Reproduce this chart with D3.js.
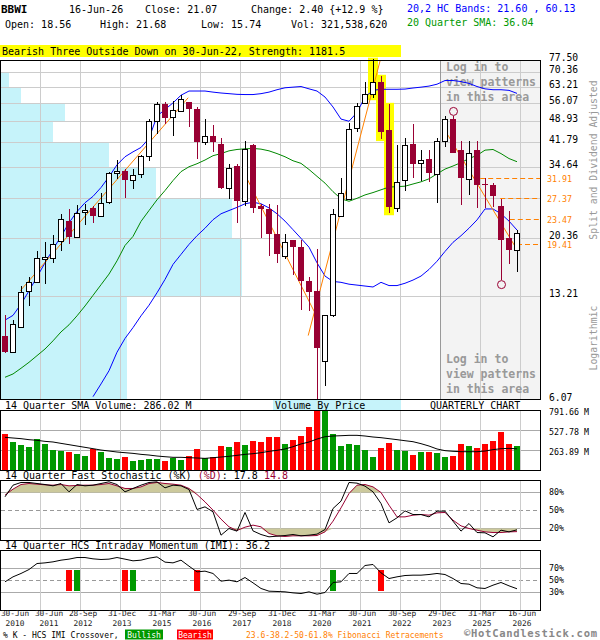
<!DOCTYPE html>
<html>
<head>
<meta charset="utf-8">
<script src="https://cdn.jsdelivr.net/npm/d3@7"></script>
<style>
  body { margin: 0; background: #fff; }
  text { font-family: "DejaVu Sans Mono", monospace; }
</style>
</head>
<body>
<svg id="chart" width="600" height="640"></svg>
<script>
// BBWI quarterly candles, 30-Jun-2010 .. 16-Jun-2026 (65 quarters)
const qOpen = [9.8,8.65,10.5,13.6,14.6,17.3,17.5,19.9,23.2,20.6,
  24.7,25.5,23.9,26.5,33.0,33.6,31.6,33.0,37.7,49.0,
  55.5,50.3,52.8,56.3,53.4,41.8,43.6,41.3,29.7,34.9,
  26.9,40.9,25.9,25.2,21.0,17.8,20.0,19.0,14.8,13.7,
  8.1,11.4,24.1,27.3,46.4,55.8,59.9,65.6,45.7,25.5,
  31.5,41.3,35.8,36.9,33.0,42.0,49.6,39.2,31.6,39.4,
  30.6,30.2,25.9,20.3,18.56];
const qHigh = [11.4,11.0,14.2,15.2,18.4,19.8,20.8,24.3,25.2,26.1,
  26.3,25.8,28.6,33.4,36.5,34.2,34.1,38.0,49.7,56.3,
  56.3,56.7,59.6,56.5,54.2,49.7,47.3,42.9,35.4,35.5,
  42.0,41.0,26.3,26.2,26.1,21.0,20.1,20.1,15.2,18.8,
  11.4,25.2,32.0,48.0,56.0,65.6,78.0,68.6,55.6,40.9,
  43.2,47.9,39.4,39.2,43.2,50.6,50.6,42.0,42.0,42.0,
  31.8,30.7,27.3,25.0,21.68];
const qLow = [8.6,8.6,10.4,12.2,14.5,14.4,16.9,18.4,19.5,20.5,
  22.4,22.7,23.8,26.3,31.6,27.5,29.4,31.8,36.3,44.3,
  47.9,43.6,52.2,46.9,36.7,40.9,38.9,29.4,27.3,22.8,
  25.9,24.5,20.4,17.8,16.9,17.4,15.4,11.9,11.8,6.1,
  6.7,11.3,24.0,27.3,45.0,55.7,58.0,42.7,24.5,24.7,
  29.0,31.8,31.3,31.0,26.5,40.1,38.5,26.1,28.0,25.4,
  25.4,25.6,14.9,16.7,15.74];
const qClose = [8.65,10.7,13.6,14.6,17.5,17.6,19.5,23.4,20.5,24.6,
  25.1,24.0,26.4,33.0,33.6,31.5,32.7,37.7,49.0,55.5,
  50.1,53.0,57.6,53.4,41.9,43.6,41.9,29.6,34.4,26.9,
  39.6,25.4,25.2,20.9,18.1,19.7,19.0,14.8,13.6,8.9,
  11.4,24.3,28.6,46.2,54.9,59.9,65.6,45.0,25.6,31.0,
  40.9,35.5,36.5,33.0,42.2,49.6,38.5,31.8,38.5,30.2,
  30.2,27.8,20.0,18.6,21.07];

// volume in millions of shares and its 14 quarter SMA
const volume = [482,376,336,310,411,350,270,257,244,218,
  191,284,244,165,152,178,125,139,152,152,
  125,165,139,191,284,165,178,323,310,376,
  336,389,376,442,442,350,402,459,578,800,
  800,482,323,350,336,270,182,301,367,270,
  261,205,244,244,231,178,191,350,323,301,
  350,389,508,350,321.5];
const volSma = [437.5,428.7,420,406.7,398,384.7,376,358,340.7,323,
  305.6,288,270,257,244,235,226,213,204,191,
  182,174,174,169,165,160,169,178,187,200,
  213,222,235,253,266,284,314,350,376,415,
  446,455,459,464,464,455,442,433,420,407,
  393,380,354,323,284,262,253,248,248,248,
  257,275,288,292,286.02];

// 20,2 HC bands and 20 quarter SMA
const bbUpper = [11.0,11.4,12.4,13.7,15.2,16.9,18.7,20.6,22.8,24.8,
  26.5,27.8,29.7,32.2,35.2,37.4,38.8,40.1,42.9,50.7,
  53.3,56.0,59.3,61.2,61.2,61.2,60.7,60.3,60.0,59.7,
  59.6,59.6,60.0,60.7,61.8,62.7,63.0,63.3,62.2,61.2,
  58.5,54.3,49.6,48.8,52.1,58.5,61.5,62.0,62.0,62.0,
  62.1,62.6,63.0,63.5,64.4,66.2,66.2,65.7,64.8,63.3,
  62.2,61.8,61.8,61.5,60.13];
const bbLower = [null,null,null,null,null,null,null,null,null,null,
  null,6.2,6.82,7.53,8.65,9.59,10.4,11.36,12.3,13.5,
  14.92,16.7,18.0,19.4,20.7,21.9,23.34,24.4,25.0,25.6,
  26.3,26.6,26.3,25.5,24.4,23.1,21.66,20.3,19.0,16.9,
  15.3,14.7,14.6,14.4,14.3,14.2,14.1,14.6,14.25,14.25,
  14.5,14.85,15.3,16.08,17.1,18.4,19.7,20.7,21.9,23.3,
  25.3,25.3,24.4,23.1,21.6];
const sma20 = [7.17,7.35,7.67,8.02,8.43,8.86,9.42,10.07,10.62,11.36,
  12.23,13.24,14.34,15.53,17.15,19.24,20.6,23.05,25.0,27.09,
  29.04,31.29,33.46,34.7,35.5,36.5,37.7,38.3,39.1,39.5,
  39.7,39.8,39.6,39.1,38.3,37.4,36.3,35.6,34.0,32.3,
  30.7,28.8,27.3,26.8,27.4,28.1,28.6,29.2,29.8,29.9,
  30.0,30.5,31.0,31.7,32.9,34.1,34.9,35.8,36.9,37.8,
  39.3,39.5,38.3,36.9,36.04];

// 14 quarter fast stochastic and HCS intraday momentum (percent)
const stochK = [72.8,92.2,96.7,96.7,95,93.3,91.1,95,81.1,93.3,
  91.1,92.2,95,97.8,93.3,81.1,86.7,92.2,96.7,97.8,
  87.8,92.2,91.1,85,51.7,56.1,47.8,8.9,20,15.6,
  46.7,16,10,6.1,7.2,8.3,10,7.8,8.9,10.6,
  18.3,53.3,65.6,96.7,95.6,90.6,81.1,61.7,29.4,37.8,
  49.4,43.3,43.3,39.4,48.9,48.9,32.2,15.6,28.3,13.3,
  12.8,6.1,17.2,14.4,17.8];
const stochD = [75.6,85.6,93.3,95,93.9,92.8,92.2,93.3,91.1,91.7,
  92.2,92.2,93.3,95,91.1,86.7,86.7,89.4,95,96.7,
  95,93.9,92.2,86.7,76.7,64.4,50.6,35.6,22.8,16.7,
  22.2,25.6,22.8,11.7,7.8,6.7,7.8,7.8,7.8,8.3,
  14.4,32.2,54.4,78.3,92.2,93.3,89.4,80,58.9,39.4,
  39.4,42.2,43.3,42.2,46.1,46.7,33.9,24.4,20,17.2,
  14.4,13.3,13.3,14.4,14.8];
const imi = [47.8,56.1,61.7,68.3,78.3,79.4,81.1,83.9,85.6,88.3,
  88.3,86.1,85,85.6,88.3,85.6,82.8,83.9,87.2,89.4,
  80.6,79.4,83.9,73.9,64.4,65.6,61.7,48.9,50.6,47.8,
  55,46.1,36.7,32.2,31.7,31.1,29.4,28.3,31.1,27.2,
  30,46.7,47.8,61.7,61.7,75,76.7,62.8,53.3,56.1,
  58.3,58.9,58.9,60,61.7,60,53.3,45,43.9,37.8,
  36.7,42.2,46.7,41.1,36.2];
const imiCrossIdx = [8, 9, 15, 16, 24, 41, 47];
const imiCrossType = ["bear", "bull", "bear", "bull", "bear", "bull", "bear"];

// volume by price, one bin between each pair of price ticks (low to high)
const priceTicks = [6.07, 13.21, 20.36, 27.50, 34.64, 41.79, 48.93, 56.07, 63.21, 70.36, 77.50];
const priceTickLabels = ["6.07", "13.21", "20.36", "", "34.64", "41.79", "48.93", "56.07", "63.21", "70.36", "77.50"];
const vbpVolume = [1260, 2410, 2310, 1550, 1080, 520, 640, 200, 80, 0];

// pattern, swing markers, trend lines (quarter index, price) and fib levels
const patternIdx = [46, 47, 48];
const swingHighIdx = [56];
const swingLowIdx = [62];
const trendFrom = [[1.9, 13.7], [30, 32.7], [37.9, 9.8], [54.8, 46.5]];
const trendTo = [[22.9, 58.2], [38.75, 11.6], [46.9, 77.0], [64, 18.66]];
const fibLevels = [31.91, 27.37, 23.47, 19.41];
const fibStartIdx = [59.4, 61.9, 63.1, 64];

// time axis
const xTickIdx = [0, 4, 9, 14, 19, 24, 29, 34, 39, 44, 49, 54, 59, 64];
const xTickTop = ["30-Jun","30-Jun","28-Sep","31-Dec","31-Mar","30-Jun","29-Sep","31-Dec","31-Mar","30-Jun","30-Sep","29-Dec","31-Mar","16-Jun"];
const xTickBottom = ["2010","2011","2012","2013","2015","2016","2017","2018","2020","2021","2022","2023","2025","2026"];

const volTicks = [263.89, 527.78, 791.66];
const stochTicks = [20, 50, 80];
const imiTicks = [30, 50, 70];

const svg = d3.select("#chart");
svg.append("rect").attr("width", 600).attr("height", 640).attr("fill", "#fff");

const n = qClose.length;
const RIGHT = 540.5;
const DARK_RED = "#990033";
const ORANGE = "#ff8000";
const GRID = "#cccccc";

const x = d3.scaleLinear().domain([0, n - 1]).range([5, 517]);
const y = d3.scaleLog().domain([6.07, 77.5]).range([399.5, 59.5]);
const yVol = d3.scaleLinear().domain([0, 791.66]).range([470.5, 410.5]);
const yStoch = d3.scaleLinear().domain([0, 100]).range([540.5, 480.5]);
const yImi = d3.scaleLinear().domain([0, 100]).range([610.5, 550.5]);
const vbpW = d3.scaleLinear().domain([0, d3.max(vbpVolume)]).range([0, 241]);
const gridX = xTickIdx.slice(1).map(i => x(i) + 3.5);

const addClip = (id, top, bottom) => {
  svg.append("clipPath").attr("id", id)
    .append("rect").attr("x", 0.5).attr("y", top).attr("width", 540).attr("height", bottom - top);
};
addClip("clipMain", 60.5, 399.5);
addClip("clipVol", 410.5, 470.5);
addClip("clipStoch", 480.5, 540.5);
addClip("clipImi", 550.5, 610.5);

const vGrid = (g, top, bottom) => {
  gridX.forEach(gx => {
    g.append("line").attr("x1", gx).attr("x2", gx).attr("y1", top).attr("y2", bottom)
      .attr("stroke", GRID).attr("shape-rendering", "crispEdges");
  });
};

// ---------- header ----------
const header = svg.append("g").attr("font-size", 10).attr("fill", "#000");
header.append("text").attr("x", 1).attr("y", 13).attr("font-size", 11).attr("font-weight", "bold").text("BBWI");
header.append("text").attr("x", 69).attr("y", 13).text("16-Jun-26");
header.append("text").attr("x", 145).attr("y", 13).text("Close: 21.07");
header.append("text").attr("x", 251).attr("y", 13).text("Change: 2.40 {+12.9 %}");
header.append("text").attr("x", 5).attr("y", 28).text("Open: 18.56");
header.append("text").attr("x", 100).attr("y", 28).text("High: 21.68");
header.append("text").attr("x", 201).attr("y", 28).text("Low: 15.74");
header.append("text").attr("x", 291).attr("y", 28).text("Vol: 321,538,620");
header.append("text").attr("x", 407).attr("y", 12).attr("fill", "#0000ff").text("20,2 HC Bands: 21.60 , 60.13");
header.append("text").attr("x", 407).attr("y", 26).attr("fill", "#009900").text("20 Quarter SMA: 36.04");

// ---------- main price panel ----------
const main = svg.append("g");
main.append("rect").attr("x", 440.5).attr("y", 60.5).attr("width", 100).attr("height", 339)
  .attr("fill", "#f3f3f3");

const vbpG = main.append("g").attr("shape-rendering", "crispEdges");
vbpVolume.forEach((v, k) => {
  if (!v) return;
  vbpG.append("rect")
    .attr("x", 0.5)
    .attr("y", y(priceTicks[k + 1]))
    .attr("width", vbpW(v))
    .attr("height", y(priceTicks[k]) - y(priceTicks[k + 1]))
    .attr("fill", "#c6f3fa");
});

const mainGrid = main.append("g");
priceTicks.forEach(p => {
  const yy = Math.round(y(p)) + 0.5;
  if (yy <= 61 || yy >= 399) return;
  mainGrid.append("line").attr("x1", 0.5).attr("x2", RIGHT).attr("y1", yy).attr("y2", yy)
    .attr("stroke", GRID).attr("shape-rendering", "crispEdges");
});
vGrid(mainGrid, 60.5, 399.5);
main.append("line").attr("x1", 440.5).attr("x2", 440.5).attr("y1", 60.5).attr("y2", 399.5)
  .attr("stroke", "#999").attr("shape-rendering", "crispEdges");

const loginText = ["Log in to", "view patterns", "in this area"];
[71, 363].forEach(base => {
  loginText.forEach((t, k) => {
    main.append("text").attr("x", 446).attr("y", base + k * 15)
      .attr("font-size", 11.5).attr("font-weight", "bold").attr("fill", "#999").text(t);
  });
});

// three outside down highlight
patternIdx.forEach(i => {
  main.append("rect")
    .attr("x", x(i) - 5).attr("width", 10)
    .attr("y", y(qHigh[i]) - 1)
    .attr("height", y(qLow[i]) - y(qHigh[i]) + 3)
    .attr("fill", "#ffff00");
});

const overlay = main.append("g").attr("clip-path", "url(#clipMain)").attr("fill", "none");
const priceLine = arr => d3.line().defined(d => d != null).x((d, i) => x(i)).y(d => y(d))(arr);
overlay.append("path").attr("d", priceLine(bbUpper)).attr("stroke", "#0000ff");
overlay.append("path").attr("d", priceLine(bbLower)).attr("stroke", "#0000ff");
overlay.append("path").attr("d", priceLine(sma20)).attr("stroke", "#008800");

trendFrom.forEach((a, k) => {
  const b = trendTo[k];
  overlay.append("line")
    .attr("x1", x(a[0])).attr("y1", y(a[1]))
    .attr("x2", x(b[0])).attr("y2", y(b[1]))
    .attr("stroke", ORANGE);
});
fibLevels.forEach((lv, k) => {
  const yy = Math.round(y(lv)) + 0.5;
  overlay.append("line")
    .attr("x1", x(fibStartIdx[k])).attr("x2", RIGHT)
    .attr("y1", yy).attr("y2", yy)
    .attr("stroke", ORANGE).attr("stroke-dasharray", "5,3");
  svg.append("text").attr("x", 547).attr("y", yy + 3)
    .attr("font-size", 8.3).attr("fill", ORANGE).text(lv.toFixed(2));
});

// candles
const candles = main.append("g").attr("shape-rendering", "crispEdges");
d3.range(n).forEach(i => {
  const up = qClose[i] >= qOpen[i];
  const col = up ? "#000" : DARK_RED;
  const cx = x(i);
  candles.append("line")
    .attr("x1", cx + 0.5).attr("x2", cx + 0.5)
    .attr("y1", y(qHigh[i])).attr("y2", y(qLow[i]))
    .attr("stroke", col);
  const top = y(Math.max(qOpen[i], qClose[i]));
  const bot = y(Math.min(qOpen[i], qClose[i]));
  if (up) {
    candles.append("rect")
      .attr("x", cx - 2.5).attr("y", Math.round(top) + 0.5)
      .attr("width", 5).attr("height", Math.max(Math.round(bot - top), 1))
      .attr("fill", "#fff").attr("stroke", "#000");
  } else {
    candles.append("rect")
      .attr("x", cx - 3).attr("y", top)
      .attr("width", 6).attr("height", Math.max(bot - top, 1.5))
      .attr("fill", DARK_RED);
  }
});
swingHighIdx.forEach(i => {
  main.append("circle").attr("cx", x(i) + 0.5).attr("cy", y(qHigh[i]) - 5).attr("r", 4)
    .attr("fill", "none").attr("stroke", DARK_RED);
});
swingLowIdx.forEach(i => {
  main.append("circle").attr("cx", x(i) + 0.5).attr("cy", y(qLow[i]) + 5).attr("r", 4)
    .attr("fill", "none").attr("stroke", DARK_RED);
});

main.append("rect").attr("x", 0.5).attr("y", 60.5).attr("width", 540).attr("height", 339)
  .attr("fill", "none").attr("stroke", "#000").attr("shape-rendering", "crispEdges");

priceTicks.forEach((p, k) => {
  if (!priceTickLabels[k]) return;
  svg.append("text").attr("x", 549).attr("y", y(p) + 1)
    .attr("font-size", 9.7).attr("fill", "#000").text(priceTickLabels[k]);
});
svg.append("text").attr("transform", "translate(597,160) rotate(-90)")
  .attr("text-anchor", "middle").attr("font-size", 9.8).attr("fill", "#999")
  .text("Split and Dividend Adjusted");
svg.append("text").attr("transform", "translate(597,338) rotate(-90)")
  .attr("text-anchor", "middle").attr("font-size", 9.8).attr("fill", "#999")
  .text("Logarithmic");

// banner
svg.append("rect").attr("x", 0).attr("y", 45).attr("width", 401).attr("height", 12).attr("fill", "#ffff00");
svg.append("text").attr("x", 2).attr("y", 55).attr("font-size", 10)
  .text("Bearish Three Outside Down on 30-Jun-22, Strength: 1181.5");

// ---------- volume panel ----------
svg.append("text").attr("x", 5).attr("y", 408.5).attr("font-size", 10).text("14 Quarter SMA Volume: 286.02 M");
svg.append("rect").attr("x", 273).attr("y", 400).attr("width", 128).attr("height", 10).attr("fill", "#c6f3fa");
svg.append("text").attr("x", 275).attr("y", 408.5).attr("font-size", 10).text("Volume By Price");
svg.append("text").attr("x", 430).attr("y", 408.5).attr("font-size", 10).text("QUARTERLY CHART");

const volG = svg.append("g");
volTicks.slice(0, 2).forEach(v => {
  volG.append("line").attr("x1", 0.5).attr("x2", RIGHT).attr("y1", yVol(v)).attr("y2", yVol(v))
    .attr("stroke", "#aaa").attr("shape-rendering", "crispEdges");
});
vGrid(volG, 410.5, 470.5);
const volBars = volG.append("g").attr("clip-path", "url(#clipVol)").attr("shape-rendering", "crispEdges");
volume.forEach((v, i) => {
  volBars.append("rect")
    .attr("x", x(i) - 3).attr("width", 6)
    .attr("y", yVol(v)).attr("height", yVol(0) - yVol(v))
    .attr("fill", qClose[i] >= qOpen[i] ? "#009900" : "#ff0000");
});
volG.append("path")
  .attr("d", d3.line().x((d, i) => x(i)).y(d => yVol(d))(volSma))
  .attr("fill", "none").attr("stroke", "#000");
volG.append("rect").attr("x", 0.5).attr("y", 410.5).attr("width", 540).attr("height", 60)
  .attr("fill", "none").attr("stroke", "#000").attr("shape-rendering", "crispEdges");
volTicks.forEach(v => {
  svg.append("text").attr("x", 549).attr("y", yVol(v) + 4.5).attr("font-size", 8.3)
    .text(v.toFixed(2) + " M");
});

// ---------- stochastic panel ----------
const stTitle = svg.append("text").attr("x", 5).attr("y", 478.5).attr("font-size", 10);
stTitle.append("tspan").text("14 Quarter Fast Stochastic (%K) ");
stTitle.append("tspan").attr("fill", DARK_RED).text("(%D)");
stTitle.append("tspan").text(": 17.8  ");
stTitle.append("tspan").attr("fill", DARK_RED).text("14.8");

const stG = svg.append("g");
stochTicks.forEach(t => {
  stG.append("line").attr("x1", 0.5).attr("x2", RIGHT).attr("y1", yStoch(t)).attr("y2", yStoch(t))
    .attr("stroke", t === 50 ? "#999" : "#aaa")
    .attr("stroke-dasharray", t === 50 ? "4,3" : null)
    .attr("shape-rendering", "crispEdges");
});
vGrid(stG, 480.5, 540.5);
const stInner = stG.append("g").attr("clip-path", "url(#clipStoch)");
stInner.append("path")
  .attr("d", d3.area().x((d, i) => x(i)).y0(yStoch(80)).y1(d => yStoch(Math.max(d, 80)))(stochD))
  .attr("fill", "#ccc99c");
stInner.append("path")
  .attr("d", d3.area().x((d, i) => x(i)).y0(yStoch(20)).y1(d => yStoch(Math.min(d, 20)))(stochD))
  .attr("fill", "#ccc99c");
stInner.append("path")
  .attr("d", d3.line().x((d, i) => x(i)).y(d => yStoch(d))(stochD))
  .attr("fill", "none").attr("stroke", DARK_RED);
stInner.append("path")
  .attr("d", d3.line().x((d, i) => x(i)).y(d => yStoch(d))(stochK))
  .attr("fill", "none").attr("stroke", "#000");
stG.append("rect").attr("x", 0.5).attr("y", 480.5).attr("width", 540).attr("height", 60)
  .attr("fill", "none").attr("stroke", "#000").attr("shape-rendering", "crispEdges");
stochTicks.forEach(t => {
  svg.append("text").attr("x", 549).attr("y", yStoch(t) + 2.5).attr("font-size", 8.3).text(t + "%");
});

// ---------- IMI panel ----------
svg.append("text").attr("x", 5).attr("y", 548.5).attr("font-size", 10)
  .text("14 Quarter HCS Intraday Momentum (IMI): 36.2");
const imG = svg.append("g");
imiTicks.forEach(t => {
  imG.append("line").attr("x1", 0.5).attr("x2", RIGHT).attr("y1", yImi(t)).attr("y2", yImi(t))
    .attr("stroke", t === 50 ? "#999" : "#aaa")
    .attr("stroke-dasharray", t === 50 ? "4,3" : null)
    .attr("shape-rendering", "crispEdges");
});
vGrid(imG, 550.5, 610.5);
imiCrossIdx.forEach((i, k) => {
  imG.append("rect")
    .attr("x", x(i) - 3).attr("width", 6)
    .attr("y", yImi(68)).attr("height", yImi(32) - yImi(68))
    .attr("fill", imiCrossType[k] === "bull" ? "#009900" : "#ff0000")
    .attr("shape-rendering", "crispEdges");
});
imG.append("path").attr("clip-path", "url(#clipImi)")
  .attr("d", d3.line().x((d, i) => x(i)).y(d => yImi(d))(imi))
  .attr("fill", "none").attr("stroke", "#000");
imG.append("rect").attr("x", 0.5).attr("y", 550.5).attr("width", 540).attr("height", 60)
  .attr("fill", "none").attr("stroke", "#000").attr("shape-rendering", "crispEdges");
imiTicks.forEach(t => {
  svg.append("text").attr("x", 549).attr("y", yImi(t) + 2.5).attr("font-size", 8.3).text(t + "%");
});

// ---------- time axis ----------
let prevX = -Infinity;
xTickIdx.forEach((i, k) => {
  const px = Math.max(x(i) + 5, 15, prevX + 34);
  prevX = px;
  svg.append("text").attr("x", px).attr("y", 616.3).attr("text-anchor", "middle")
    .attr("font-size", 7.8).attr("fill", "#222").text(xTickTop[k]);
  svg.append("text").attr("x", px).attr("y", 625.5).attr("text-anchor", "middle")
    .attr("font-size", 7.8).attr("fill", "#222").text(xTickBottom[k]);
});

// ---------- footer ----------
svg.append("text").attr("x", 3).attr("y", 637.5).attr("font-size", 8).text("% K - HCS IMI Crossover,");
svg.append("rect").attr("x", 125).attr("y", 629.5).attr("width", 38).attr("height", 10).attr("fill", "#009900");
svg.append("text").attr("x", 144).attr("y", 637.5).attr("text-anchor", "middle").attr("font-size", 8)
  .attr("fill", "#fff").text("Bullish");
svg.append("rect").attr("x", 177).attr("y", 629.5).attr("width", 36).attr("height", 10).attr("fill", "#ff0000");
svg.append("text").attr("x", 195).attr("y", 637.5).attr("text-anchor", "middle").attr("font-size", 8)
  .attr("fill", "#fff").text("Bearish");
svg.append("text").attr("x", 246).attr("y", 637.5).attr("font-size", 8).attr("fill", ORANGE)
  .text("23.6-38.2-50-61.8% Fibonacci Retracements");
svg.append("text").attr("x", 464).attr("y", 637.4).attr("font-size", 10.5).attr("font-weight", "bold")
  .attr("textLength", 133).attr("lengthAdjust", "spacing")
  .attr("fill", "#888").text("\u00a9HotCandlestick.com");
</script>
</body>
</html>
